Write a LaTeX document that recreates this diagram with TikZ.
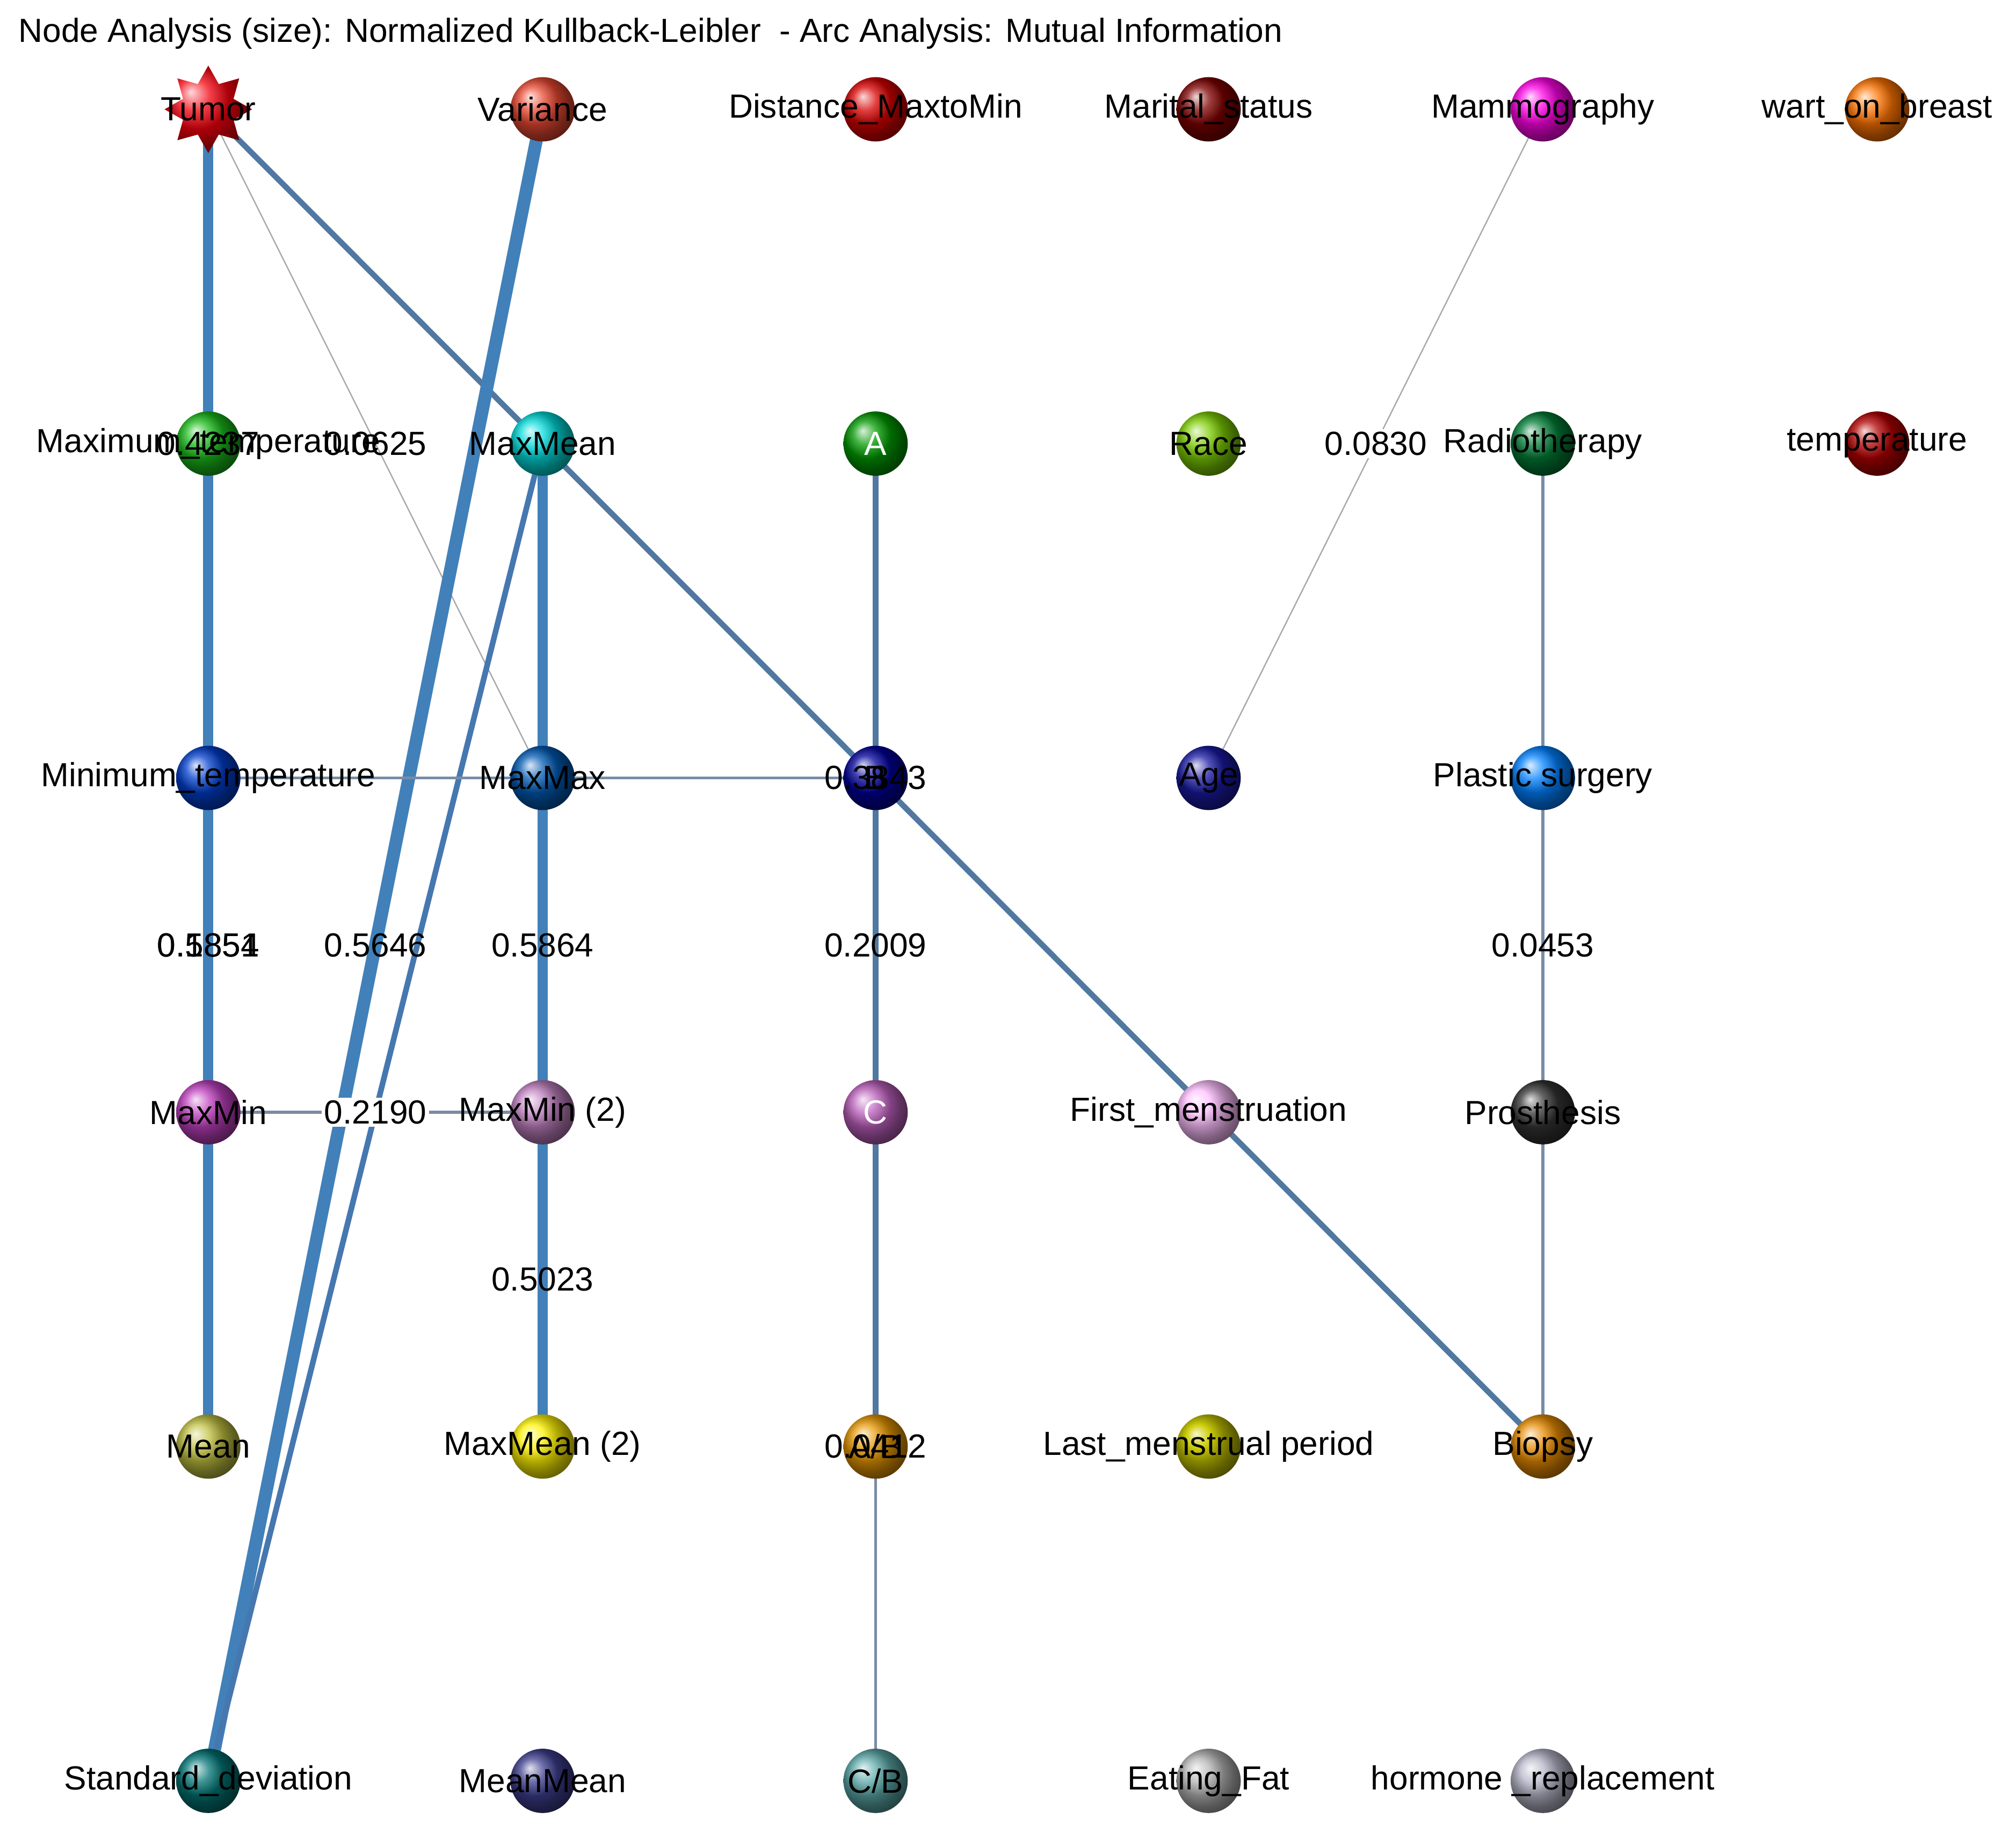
\documentclass[tikz,border=0pt]{standalone}
\usepackage{fontspec}
\setmainfont{Liberation Sans}
\usetikzlibrary{shapes.geometric}
\pgfdeclarelayer{bg}
\pgfsetlayers{bg,main}
\begin{document}
\begin{tikzpicture}[x=0.5pt,y=-0.5pt,
  nd/.style={circle,minimum size=25pt,inner sep=0pt,shading=ball,ball color=#1},
  lb/.style={font=\fontsize{13}{15}\selectfont,inner sep=0pt},
  thick1/.style={line width=4pt,draw={rgb,255:red,66;green,128;blue,185}},
  med/.style={line width=2.2pt,draw={rgb,255:red,80;green,120;blue,160}},
  thin1/.style={line width=1.2pt,draw={rgb,255:red,120;green,140;blue,165}},
  hair/.style={line width=0.5pt,draw=gray!70}]
\useasboundingbox (0,0) rectangle (1568,1420);
\node[lb,anchor=west] (title) at (14,26) {Node Analysis (size): Normalized Kullback-Leibler\ \ - Arc Analysis: Mutual Information};
% nodes
\node[star,star points=8,star point ratio=1.6,minimum size=34pt,inner sep=0pt,shading=ball,ball color=red!80!purple] (Tumor) at (162,85) {};
\node[nd=red!60!brown!90!white] (Var) at (422,85) {};
\node[nd=red!85!black] (Dist) at (681,85) {};
\node[nd=red!50!black] (Mar) at (940,85) {};
\node[nd=magenta!90!red] (Mam) at (1200,85) {};
\node[nd=orange!90!red] (Wart) at (1460,85) {};
\node[nd=green!70!black!90!white] (Maxt) at (162,345) {};
\node[nd=cyan!70!teal] (MaxMean) at (422,345) {};
\node[nd=green!60!black] (A) at (681,345) {};
\node[nd=yellow!60!green!80!black] (Race) at (940,345) {};
\node[nd=teal!60!green!70!black] (Radio) at (1200,345) {};
\node[nd=red!70!black] (Temp) at (1460,345) {};
\node[nd=blue!70!cyan!80!black] (Mint) at (162,605) {};
\node[nd=blue!50!cyan!70!black] (MaxMax) at (422,605) {};
\node[nd=blue!60!black] (B) at (681,605) {};
\node[nd=blue!60!black!90!white] (Age) at (940,605) {};
\node[nd=cyan!50!blue] (Plastic) at (1200,605) {};
\node[nd=magenta!50!gray] (MaxMin) at (162,865) {};
\node[nd=violet!50!white] (MaxMin2) at (422,865) {};
\node[nd=magenta!40!gray!90!white] (C) at (681,865) {};
\node[nd=magenta!25!white] (First) at (940,865) {};
\node[nd=black!80] (Pros) at (1200,865) {};
\node[nd=yellow!50!gray] (Mean) at (162,1125) {};
\node[nd=yellow!90!orange] (MaxMean2) at (422,1125) {};
\node[nd=orange!70!yellow!90!black] (AB) at (681,1125) {};
\node[nd=yellow!50!olive] (Last) at (940,1125) {};
\node[nd=orange!80!yellow!90!black] (Biopsy) at (1200,1125) {};
\node[nd=teal!90!black] (Std) at (162,1385) {};
\node[nd=blue!40!gray!80!black] (MeanMean) at (422,1385) {};
\node[nd=cyan!30!gray] (CB) at (681,1385) {};
\node[nd=gray!60] (Eat) at (940,1385) {};
\node[nd=blue!15!gray!50] (Horm) at (1200,1385) {};
% edges
\begin{pgfonlayer}{bg}
\draw[thick1] (Tumor.center) -- (Mean.center);
\draw[hair] (Tumor.center) -- (MaxMax.center);
\draw[med] (Tumor.center) -- (Biopsy.center);
\draw[line width=5pt,draw={rgb,255:red,66;green,128;blue,185}] (Var.center) -- (Std.center);
\draw[med,draw={rgb,255:red,70;green,120;blue,175}] (MaxMean.center) -- (Std.center);
\draw[thin1] (Mint.center) -- (B.center);
\draw[thin1] (MaxMin.center) -- (MaxMin2.center);
\draw[thick1] (MaxMean.center) -- (MaxMean2.center);
\draw[med] (A.center) -- (AB.center);
\draw[thin1] (AB.center) -- (CB.center);
\draw[thin1] (Radio.center) -- (Biopsy.center);
\draw[hair] (Mam.center) -- (Age.center);
\end{pgfonlayer}
% node labels
\node[lb] (lTumor) at (162,85) {Tumor};
\node[lb] (lVar) at (422,85) {Variance};
\node[lb] (lDist) at (681,85) {Distance\_MaxtoMin};
\node[lb] (lMar) at (940,85) {Marital\_status};
\node[lb] (lMam) at (1200,85) {Mammography};
\node[lb] (lWart) at (1460,85) {wart\_on\_breast};
\node[lb] (lMaxt) at (162,345) {Maximum\_temperature};
\node[lb] (lMaxMean) at (422,345) {MaxMean};
\node[lb,text=white] (lA) at (681,345) {A};
\node[lb] (lRace) at (940,345) {Race};
\node[lb] (lRadio) at (1200,345) {Radiotherapy};
\node[lb] (lTemp) at (1460,345) {temperature};
\node[lb] (lMint) at (162,605) {Minimum\_temperature};
\node[lb] (lMaxMax) at (422,605) {MaxMax};
\node[lb] (lB) at (681,605) {B};
\node[lb] (lAge) at (940,605) {Age};
\node[lb] (lPlastic) at (1200,605) {Plastic surgery};
\node[lb] (lMaxMin) at (162,865) {MaxMin};
\node[lb] (lMaxMin2) at (422,865) {MaxMin (2)};
\node[lb,text=white] (lC) at (681,865) {C};
\node[lb] (lFirst) at (940,865) {First\_menstruation};
\node[lb] (lPros) at (1200,865) {Prosthesis};
\node[lb] (lMean) at (162,1125) {Mean};
\node[lb] (lMaxMean2) at (422,1125) {MaxMean (2)};
\node[lb] (lAB) at (681,1125) {A/B};
\node[lb] (lLast) at (940,1125) {Last\_menstrual period};
\node[lb] (lBiopsy) at (1200,1125) {Biopsy};
\node[lb] (lStd) at (162,1385) {Standard\_deviation};
\node[lb] (lMeanMean) at (422,1385) {MeanMean};
\node[lb] (lCB) at (681,1385) {C/B};
\node[lb] (lEat) at (940,1385) {Eating\_Fat};
\node[lb] (lHorm) at (1200,1385) {hormone \_replacement};
% edge labels
\node[lb] (e1) at (162,345) {0.4237};
\node[lb] (e2) at (292,345) {0.0625};
\node[lb] (e3) at (681,605) {0.3843};
\node[lb] (e4) at (162,735) {0.5851};
\node[lb] (e4b) at (162,735) {0.1854};
\node[lb] (e5) at (292,735) {0.5646};
\node[lb] (e6) at (422,735) {0.5864};
\node[lb] (e7) at (681,735) {0.2009};
\node[lb] (e8) at (1200,735) {0.0453};
\node[lb,fill=white,inner sep=1pt] (e9) at (292,865) {0.2190};
\node[lb] (e10) at (422,995) {0.5023};
\node[lb] (e11) at (681,1125) {0.0412};
\node[lb,fill=white,inner sep=1pt] (e12) at (1070,345) {0.0830};
\end{tikzpicture}
\end{document}
